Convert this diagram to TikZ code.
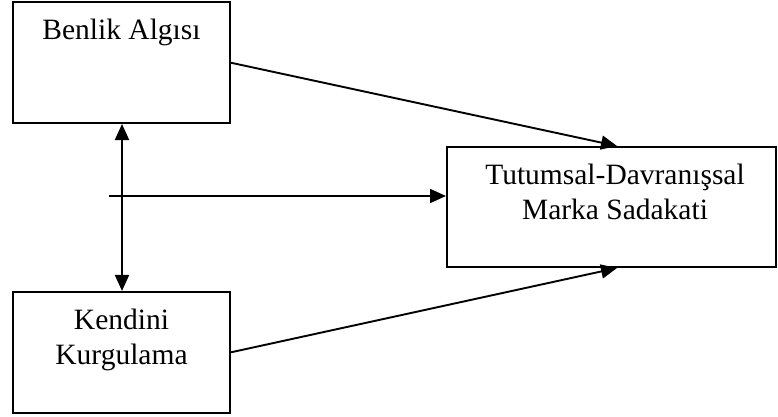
\documentclass[tikz,border=0pt]{standalone}
\usepackage{fontspec}
\setmainfont{Liberation Serif}
\usetikzlibrary{arrows.meta,calc}
\begin{document}
\begin{tikzpicture}[x=1pt,y=-1pt,
  box/.style={draw=black,line width=2pt,fill=white,inner sep=0pt},
  txt/.style={align=center,inner sep=0pt,font=\fontsize{29.5}{34.5}\selectfont},
  tip/.style={Triangle[length=16pt,width=14pt]},
  arr/.style={line width=1.9pt,-{Triangle[length=16pt,width=14pt]}},
  darr/.style={line width=1.9pt,{Triangle[length=16pt,width=14pt]}-{Triangle[length=16pt,width=14pt]}}]
\useasboundingbox[fill=white] (0,0) rectangle (778,417);
\node[box,minimum width=217pt,minimum height=120.5pt] (ba) at (121.5,62.75) {};
\node[box,minimum width=217pt,minimum height=120.7pt] (kk) at (121.5,352.3) {};
\node[box,minimum width=329pt,minimum height=120pt] (tm) at (611.5,207) {};
\node[txt,anchor=base] (baT) at (121.5,40) {Benlik Algısı};
\node[txt,anchor=base] (kkT) at (121.5,364) {Kendini\\Kurgulama};
\node[txt,anchor=base] (tmT) at (615,219) {Tutumsal-Davranışsal\\Marka Sadakati};
\coordinate (h0) at (109,196);
\draw[arr] (ba.east) -- ($(tm.north)+(5.5,0)$);
\draw[arr] (kk.east) -- ($(tm.south)+(5.5,0)$);
\draw[darr] ($(ba.south)+(0.5,0)$) -- ($(kk.north)+(0.5,0)$);
\draw[arr] (h0) -- (h0 -| tm.west);
\end{tikzpicture}
\end{document}
